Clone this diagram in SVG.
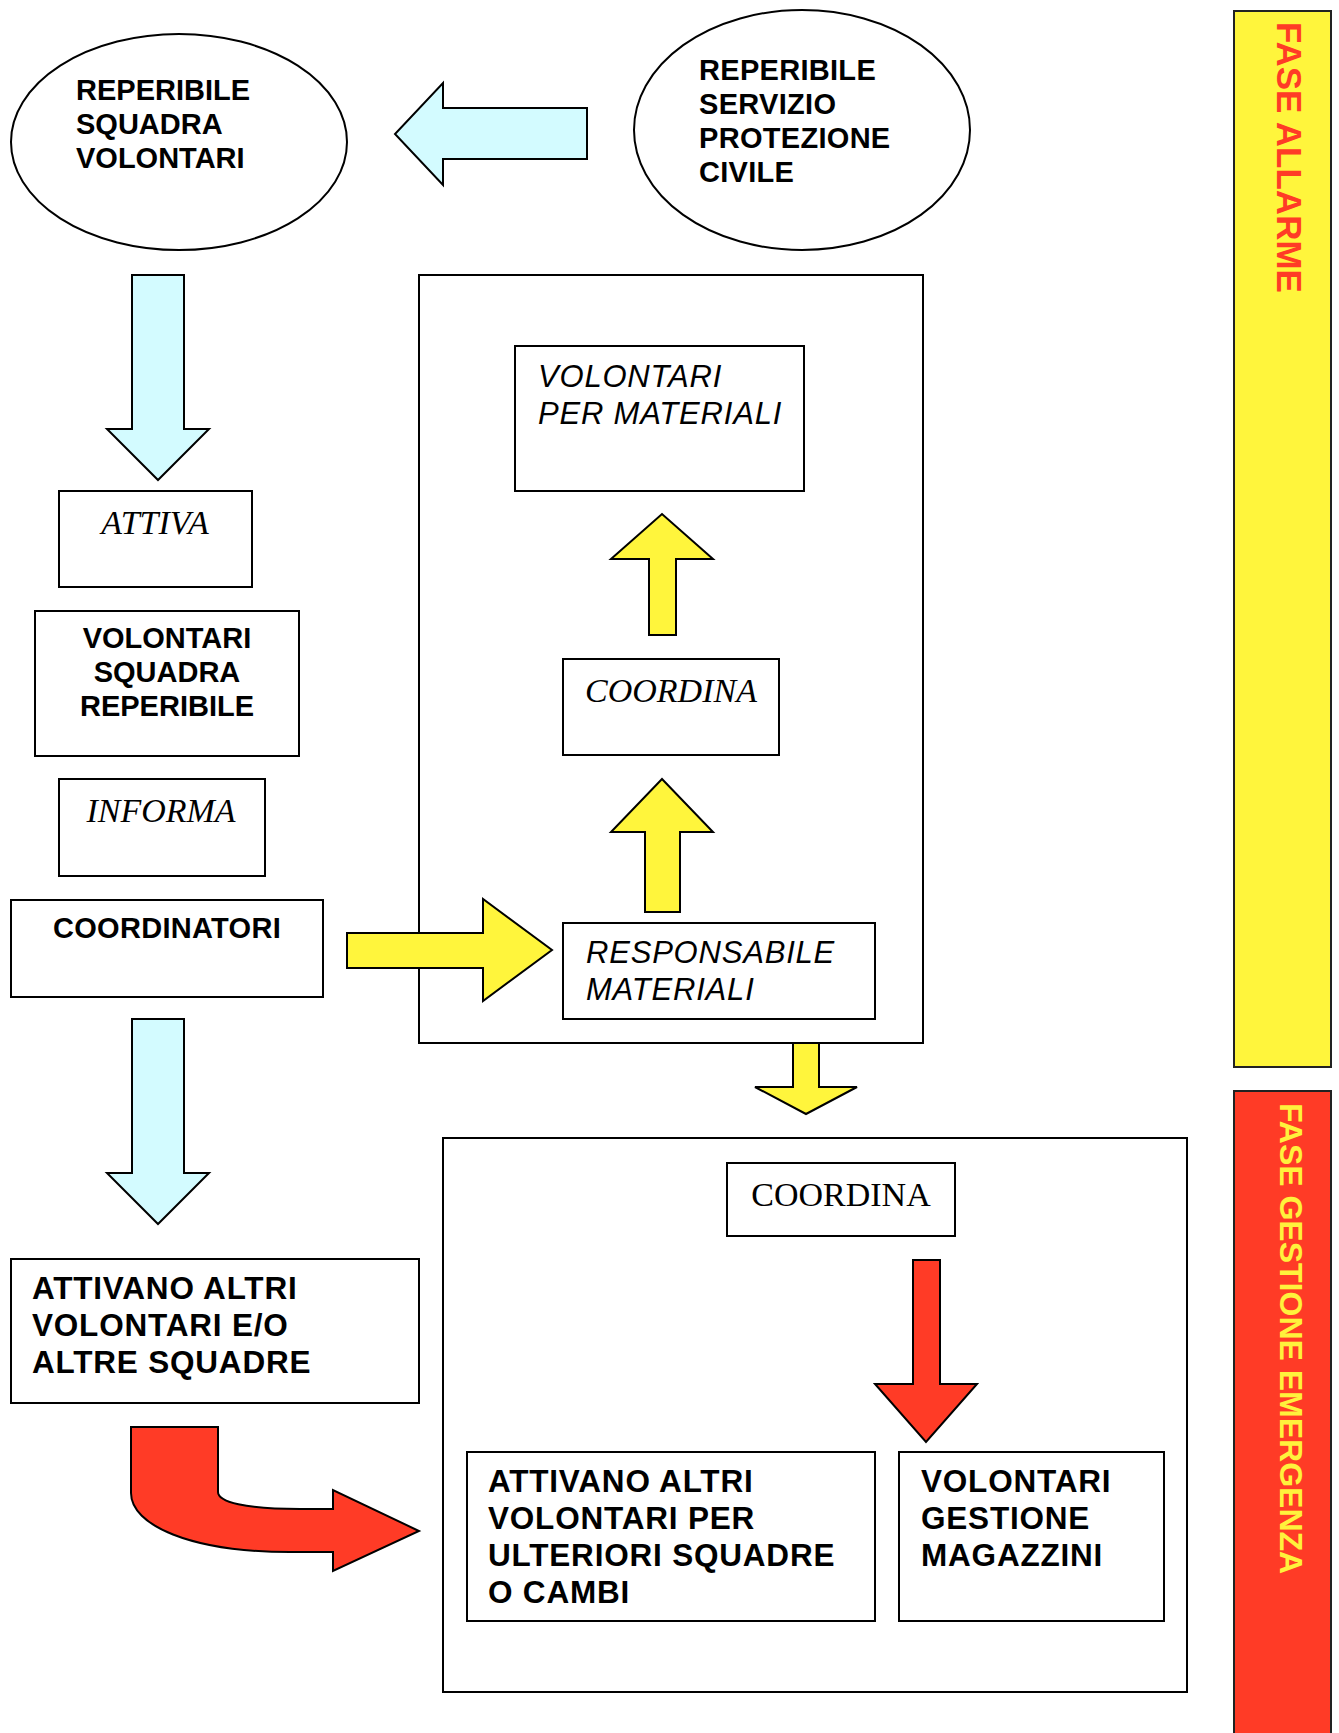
<svg xmlns="http://www.w3.org/2000/svg" width="1339" height="1733" viewBox="0 0 1339 1733">
<style>
.box{fill:#fff;stroke:#000;stroke-width:2}
.frame{fill:none;stroke:#000;stroke-width:2}
.cyan{fill:#D3FBFF;stroke:#000;stroke-width:2;stroke-linejoin:miter}
.yel{fill:#FFF53C;stroke:#000;stroke-width:2}
.red{fill:#FF3B26;stroke:#000;stroke-width:2}
.b{font-family:"Liberation Sans",Arial,sans-serif;font-weight:bold;fill:#000}
.wide{letter-spacing:0.8px}
.si{font-family:"Liberation Sans",Arial,sans-serif;font-style:italic;fill:#000;letter-spacing:0.8px}
.ti{font-family:"Liberation Serif","Times New Roman",serif;font-style:italic;fill:#000}
.t{font-family:"Liberation Serif","Times New Roman",serif;fill:#000}
</style>
<rect width="1339" height="1733" fill="#fff"/>

<!-- phase bars -->
<g id="bar-allarme">
<rect x="1234" y="11" width="97" height="1056" fill="#FFF53C" stroke="#222" stroke-width="2"/>
<text class="b" font-size="35" style="fill:#FF3B26" transform="translate(1277,22) rotate(90)">FASE ALLARME</text>
</g>
<g id="bar-emergenza">
<rect x="1234" y="1091" width="97" height="660" fill="#FF3B26" stroke="#222" stroke-width="2"/>
<text class="b" font-size="32" style="fill:#FFF23C" transform="translate(1280,1103) rotate(90)">FASE GESTIONE EMERGENZA</text>
</g>

<!-- container frames -->
<g id="frame-allarme"><rect class="frame" x="419" y="275" width="504" height="768"/></g>
<g id="frame-emergenza"><rect class="frame" x="443" y="1138" width="744" height="554"/></g>

<!-- nodes -->
<g id="n-squadra-volontari">
<ellipse class="box" cx="179" cy="142" rx="168" ry="108"/>
<text class="b" font-size="29"><tspan x="76" y="100">REPERIBILE</tspan><tspan x="76" y="134">SQUADRA</tspan><tspan x="76" y="168">VOLONTARI</tspan></text>
</g>
<g id="n-protezione-civile">
<ellipse class="box" cx="802" cy="130" rx="168" ry="120"/>
<text class="b" font-size="29" letter-spacing="0.3"><tspan x="699" y="79.5">REPERIBILE</tspan><tspan x="699" y="113.5">SERVIZIO</tspan><tspan x="699" y="147.5">PROTEZIONE</tspan><tspan x="699" y="181.5">CIVILE</tspan></text>
</g>
<g id="n-attiva">
<rect class="box" x="59" y="491" width="193" height="96"/>
<text class="ti" font-size="34" x="155" y="534" text-anchor="middle">ATTIVA</text>
</g>
<g id="n-volontari-squadra">
<rect class="box" x="35" y="611" width="264" height="145"/>
<text class="b" font-size="29" text-anchor="middle"><tspan x="167" y="647.5">VOLONTARI</tspan><tspan x="167" y="681.5">SQUADRA</tspan><tspan x="167" y="716">REPERIBILE</tspan></text>
</g>
<g id="n-informa">
<rect class="box" x="59" y="779" width="206" height="97"/>
<text class="ti" font-size="34" x="161" y="822" text-anchor="middle">INFORMA</text>
</g>
<g id="n-coordinatori">
<rect class="box" x="11" y="900" width="312" height="97"/>
<text class="b" font-size="29" x="167" y="938" text-anchor="middle" letter-spacing="0.3">COORDINATORI</text>
</g>
<g id="n-attivano-altre">
<rect class="box" x="11" y="1259" width="408" height="144"/>
<text class="b wide" font-size="31.5"><tspan x="32" y="1299">ATTIVANO ALTRI</tspan><tspan x="32" y="1336">VOLONTARI E/O</tspan><tspan x="32" y="1373">ALTRE SQUADRE</tspan></text>
</g>
<g id="n-volontari-materiali">
<rect class="box" x="515" y="346" width="289" height="145"/>
<text class="si" font-size="31"><tspan x="538" y="387">VOLONTARI</tspan><tspan x="538" y="424">PER MATERIALI</tspan></text>
</g>
<g id="n-coordina-1">
<rect class="box" x="563" y="659" width="216" height="96"/>
<text class="ti" font-size="34" x="671" y="702" text-anchor="middle">COORDINA</text>
</g>
<g id="n-responsabile">
<rect class="box" x="563" y="923" width="312" height="96"/>
<text class="si" font-size="31"><tspan x="586" y="963">RESPONSABILE</tspan><tspan x="586" y="1000">MATERIALI</tspan></text>
</g>
<g id="n-coordina-2">
<rect class="box" x="727" y="1163" width="228" height="73"/>
<text class="t" font-size="34" x="841" y="1206" text-anchor="middle">COORDINA</text>
</g>
<g id="n-attivano-ulteriori">
<rect class="box" x="467" y="1452" width="408" height="169"/>
<text class="b wide" font-size="31.5"><tspan x="488" y="1492">ATTIVANO ALTRI</tspan><tspan x="488" y="1529">VOLONTARI PER</tspan><tspan x="488" y="1566">ULTERIORI SQUADRE</tspan><tspan x="488" y="1603">O CAMBI</tspan></text>
</g>
<g id="n-magazzini">
<rect class="box" x="899" y="1452" width="265" height="169"/>
<text class="b wide" font-size="31.5"><tspan x="921" y="1492">VOLONTARI</tspan><tspan x="921" y="1529">GESTIONE</tspan><tspan x="921" y="1566">MAGAZZINI</tspan></text>
</g>

<!-- connectors (block arrows) -->
<g id="connectors">
<path class="cyan" d="M587,108 L443,108 L443,83 L395,134 L443,185 L443,159 L587,159 Z"/>
<path class="cyan" d="M132,275 L184,275 L184,429 L209,429 L158,480 L107,429 L132,429 Z"/>
<path class="cyan" d="M132,1019 L184,1019 L184,1173 L209,1173 L158,1224 L107,1173 L132,1173 Z"/>
<path class="yel" d="M649,635 L676,635 L676,559 L713,559 L662,514 L611,559 L649,559 Z"/>
<path class="yel" d="M645,912 L680,912 L680,832 L713,832 L662,779 L611,832 L645,832 Z"/>
<path class="yel" d="M347,933 L483,933 L483,899 L552,950 L483,1001 L483,968 L347,968 Z"/>
<path class="yel" d="M793,1043 L819,1043 L819,1087 L857,1087 L806,1114 L755,1087 L793,1087 Z"/>
<path class="red" d="M913,1260 L940,1260 L940,1384 L977,1384 L926,1442 L875,1384 L913,1384 Z"/>
<path class="red" d="M131,1427 L218,1427 L218,1492 C218,1502 245,1509 300,1509 L333,1509 L333,1490 L419,1531 L333,1571 L333,1552 L290,1552 C190,1552 131,1525 131,1493 Z"/>
</g>
</svg>
